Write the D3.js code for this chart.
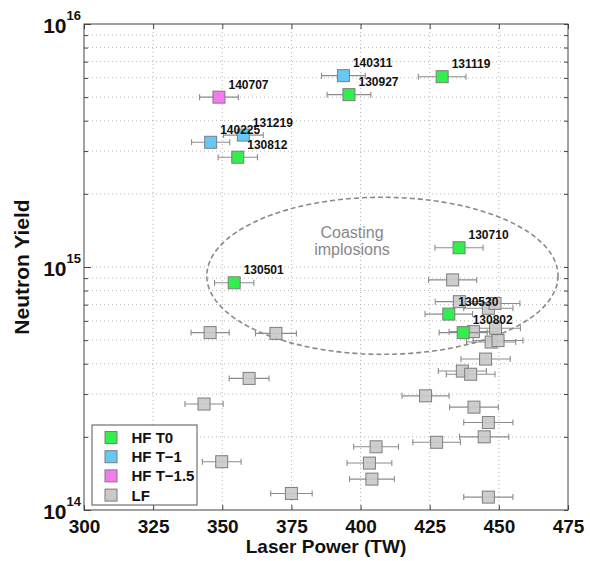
<!DOCTYPE html>
<html><head><meta charset="utf-8">
<script src="https://cdn.jsdelivr.net/npm/d3@7"></script>
<style>body{margin:0;background:#fff} svg{display:block}</style>
</head><body>
<script>
// ---- data ----
const xTicks = [300, 325, 350, 375, 400, 425, 450, 475];
const yTickExps = [14, 15, 16];

const t0Labels = ["131119", "130927", "130812", "130710", "130501", "130530", "130802"];
const t0Power  = [429.5, 395.8, 355.6, 435.6, 354.3, 431.9, 437.1];
const t0Yield  = [6.07e15, 5.12e15, 2.83e15, 1.20e15, 8.61e14, 6.40e14, 5.37e14];
const t0Err    = [8.6, 7.9, 7.1, 8.7, 7.1, 8.6, 8.7];

const t1Labels = ["140311", "131219", "140225"];
const t1Power  = [393.8, 357.6, 345.8];
const t1Yield  = [6.13e15, 3.49e15, 3.26e15];
const t1Err    = [7.9, 7.2, 6.9];

const t15Labels = ["140707"];
const t15Power  = [348.8];
const t15Yield  = [5.0e15];
const t15Err    = [7.0];

const lfPower = [345.6, 369.4, 433.3, 435.7, 446.2, 448.6, 440.8, 448.8, 447.2, 449.7, 445.2, 436.8, 439.8,
                 423.5, 441.0, 446.2, 444.7, 427.5, 446.2, 359.7, 343.4, 405.6, 403.2, 404.1, 349.8, 375.0];
const lfYield = [5.37e14, 5.33e14, 8.85e14, 7.2e14, 6.76e14, 7.08e14, 5.42e14, 5.6e14, 4.91e14, 4.98e14, 4.18e14, 3.73e14, 3.62e14,
                 2.95e14, 2.65e14, 2.29e14, 2.0e14, 1.9e14, 1.13e14, 3.48e14, 2.73e14, 1.82e14, 1.56e14, 1.34e14, 1.58e14, 1.17e14];
const lfErr   = [6.9, 7.4, 8.7, 8.7, 8.9, 9.0, 8.8, 9.0, 8.9, 9.0, 8.9, 8.7, 8.8,
                 8.5, 8.8, 8.9, 8.9, 8.6, 8.9, 7.2, 6.9, 8.1, 8.1, 8.1, 7.0, 7.5];

const legendNames = ["HF T0", "HF T\u22121", "HF T\u22121.5", "LF"];
const seriesColors = ["#33ee4f", "#66c8f7", "#f57af0", "#c9c9c9"];

// coasting-implosions annotation (data coords)
const ellipseCenter = [407.9, 9.2e14];
const ellipseHalfWidthTW = 63.5;
const ellipseYRange = [4.38e14, 1.94e15];
const annotationLines = ["Coasting", "implosions"];

// ---- layout ----
const W = 590, H = 561, m = {l: 84, r: 22, t: 24, b: 51};
const x = d3.scaleLinear().domain([300, 475]).range([m.l, W - m.r]);
const y = d3.scaleLog().domain([1e14, 1e16]).range([H - m.b, m.t]);
const FONT = "'Liberation Sans', Arial, Helvetica, sans-serif";

const svg = d3.select("body").append("svg").attr("width", W).attr("height", H)
  .style("font-family", FONT);

// grid
const minorY = [];
[1e14, 1e15].forEach(b => { for (let k = 1; k <= 9; k++) minorY.push(b * k); });
const gridY = minorY.filter(v => v > 1e14);
svg.append("g").selectAll("line").data(gridY).join("line")
  .attr("x1", m.l).attr("x2", W - m.r).attr("y1", d => y(d)).attr("y2", d => y(d))
  .attr("stroke", "#b5b5b5").attr("stroke-width", 1).attr("stroke-dasharray", "1,3");
svg.append("g").selectAll("line").data(xTicks.slice(1, -1)).join("line")
  .attr("x1", d => x(d)).attr("x2", d => x(d)).attr("y1", m.t).attr("y2", H - m.b)
  .attr("stroke", "#b5b5b5").attr("stroke-width", 1).attr("stroke-dasharray", "1,3");

// axes ticks (inward)
const tickStyle = g => { g.select(".domain").remove(); g.selectAll("line").attr("stroke", "#444"); };
svg.append("g").attr("transform", `translate(0,${H - m.b})`)
  .call(d3.axisBottom(x).tickValues(xTicks).tickSize(-5).tickPadding(10))
  .call(tickStyle)
  .call(g => g.selectAll("text").attr("font-size", 19).attr("font-weight", "bold")
    .attr("fill", "#111").attr("font-family", FONT));
svg.append("g").attr("transform", `translate(0,${m.t})`)
  .call(d3.axisTop(x).tickValues(xTicks).tickSize(-5).tickFormat(""))
  .call(tickStyle);
svg.append("g").attr("transform", `translate(${m.l},0)`)
  .call(d3.axisLeft(y).tickValues(minorY.concat([1e16])).tickSize(-4).tickFormat(""))
  .call(tickStyle);
svg.append("g").attr("transform", `translate(${m.l},0)`)
  .call(d3.axisLeft(y).tickValues(yTickExps.map(e => Math.pow(10, e))).tickSize(-7).tickFormat(""))
  .call(tickStyle);
svg.append("g").attr("transform", `translate(${W - m.r},0)`)
  .call(d3.axisRight(y).tickValues(minorY.concat([1e16])).tickSize(-4).tickFormat(""))
  .call(tickStyle);

// y tick labels 10^n
const yl = svg.append("g").selectAll("text").data(yTickExps).join("text")
  .attr("x", m.l - 3).attr("y", d => y(Math.pow(10, d)) + 9)
  .attr("text-anchor", "end").attr("font-weight", "bold").attr("fill", "#111");
yl.append("tspan").attr("font-size", 21).text("10");
yl.append("tspan").attr("font-size", 13).attr("dy", -13).text(d => d);

// frame
svg.append("rect").attr("x", m.l).attr("y", m.t).attr("width", W - m.l - m.r).attr("height", H - m.t - m.b)
  .attr("fill", "none").attr("stroke", "#444").attr("stroke-width", 1);

// axis titles
svg.append("text").attr("x", (m.l + W - m.r) / 2).attr("y", 553).attr("text-anchor", "middle")
  .attr("font-size", 19).attr("font-weight", "bold").attr("fill", "#111").text("Laser Power (TW)");
svg.append("text").attr("transform", `translate(29,${y(1e15)}) rotate(-90)`).attr("text-anchor", "middle")
  .attr("font-size", 21).attr("font-weight", "bold").attr("fill", "#111").text("Neutron Yield");

// ellipse annotation
svg.append("ellipse")
  .attr("cx", x(ellipseCenter[0])).attr("cy", y(ellipseCenter[1]))
  .attr("rx", x(ellipseCenter[0] + ellipseHalfWidthTW) - x(ellipseCenter[0]))
  .attr("ry", (y(ellipseYRange[0]) - y(ellipseYRange[1])) / 2)
  .attr("fill", "none").attr("stroke", "#8a8a8a").attr("stroke-width", 1.6).attr("stroke-dasharray", "5,3");
svg.append("g").selectAll("text").data(annotationLines).join("text")
  .attr("x", 352).attr("y", (d, i) => 238 + i * 17).attr("text-anchor", "middle")
  .attr("font-size", 16).attr("fill", "#888").text(d => d);

// series
function series(power, yieldv, err, color, labels, alpha) {
  const data = power.map((p, i) => ({p, v: yieldv[i], e: err[i], lab: labels ? labels[i] : null}));
  const g = svg.append("g");
  const eb = g.selectAll("g.eb").data(data).join("g");
  eb.append("line").attr("x1", d => x(d.p - d.e)).attr("x2", d => x(d.p + d.e))
    .attr("y1", d => y(d.v)).attr("y2", d => y(d.v)).attr("stroke", "#8c8c8c").attr("stroke-width", 1.1);
  [-1, 1].forEach(s => eb.append("line").attr("x1", d => x(d.p + s * d.e)).attr("x2", d => x(d.p + s * d.e))
    .attr("y1", d => y(d.v) - 3).attr("y2", d => y(d.v) + 3).attr("stroke", "#8c8c8c").attr("stroke-width", 1.1));
  g.selectAll("rect").data(data).join("rect")
    .attr("x", d => x(d.p) - 6).attr("y", d => y(d.v) - 6).attr("width", 12).attr("height", 12)
    .attr("fill", color).attr("fill-opacity", alpha).attr("stroke", "#7d7d7d").attr("stroke-width", 1);
  return data;
}
const lfD = series(lfPower, lfYield, lfErr, seriesColors[3], null, 0.9);
const t0D = series(t0Power, t0Yield, t0Err, seriesColors[0], t0Labels, 1);
const t1D = series(t1Power, t1Yield, t1Err, seriesColors[1], t1Labels, 1);
const t15D = series(t15Power, t15Yield, t15Err, seriesColors[2], t15Labels, 1);

svg.append("g").selectAll("text").data(t0D.concat(t1D, t15D)).join("text")
  .attr("x", d => x(d.p) + 9.5).attr("y", d => y(d.v) - 8.5)
  .attr("font-size", 12).attr("font-weight", "bold").attr("fill", "#111").text(d => d.lab);

// legend
const lg = svg.append("g");
lg.append("rect").attr("x", 92).attr("y", 425).attr("width", 105).attr("height", 80)
  .attr("fill", "#fff").attr("stroke", "#555").attr("stroke-width", 1);
legendNames.forEach((n, i) => {
  const cy = 437.5 + i * 19.2;
  lg.append("rect").attr("x", 105).attr("y", cy - 6).attr("width", 12).attr("height", 12)
    .attr("fill", seriesColors[i]).attr("stroke", "#7d7d7d");
  lg.append("text").attr("x", 131.5).attr("y", cy + 5.5).attr("font-size", 15).attr("font-weight", "bold")
    .attr("fill", "#111").text(n);
});
</script>
</body></html>
